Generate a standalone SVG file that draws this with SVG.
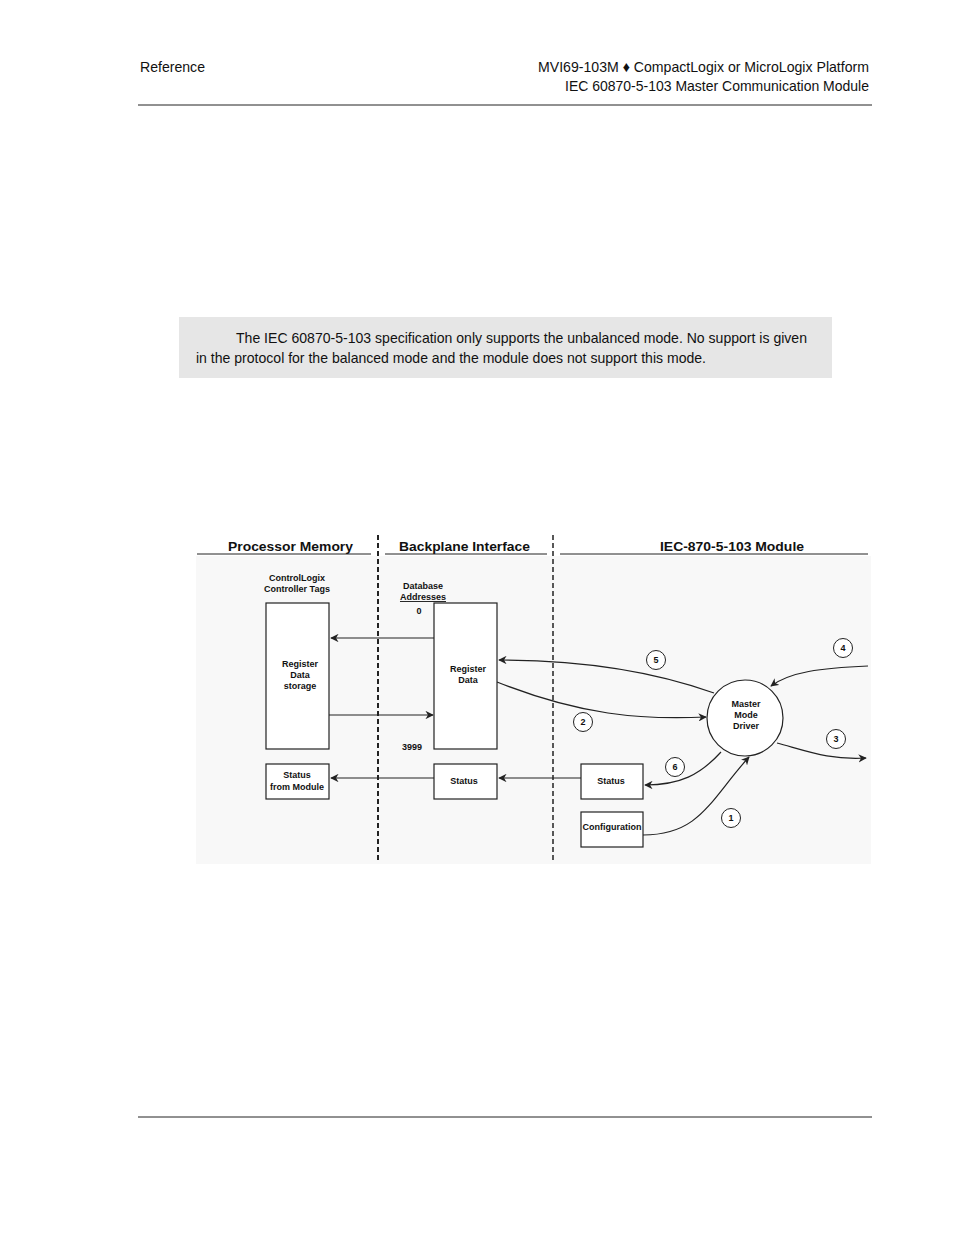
<svg xmlns="http://www.w3.org/2000/svg" width="954" height="1235" viewBox="0 0 954 1235">
<style>
.h{font-family:"Liberation Sans",Arial,sans-serif;font-size:15px;fill:#111}
.t{font-family:"Liberation Sans",Arial,sans-serif;font-size:9px;font-weight:bold;fill:#111;text-anchor:middle}
.hd{font-family:"Liberation Sans",Arial,sans-serif;font-size:13px;font-weight:bold;fill:#111}
.b{fill:#fff;stroke:#222;stroke-width:1.2}
.l{fill:none;stroke:#222;stroke-width:1.2}
.c{fill:#fff;stroke:#222;stroke-width:1}
.d{stroke:#222;stroke-width:2;stroke-dasharray:5,3}
</style>
<defs><marker id="a" viewBox="0 0 10 10" refX="9" refY="5" markerWidth="7" markerHeight="7" orient="auto"><path d="M0,0 L10,5 L0,10 L3,5 z" fill="#222"/></marker></defs>
<rect width="954" height="1235" fill="#fff"/>
<text class="h" x="140" y="72" textLength="65" lengthAdjust="spacingAndGlyphs">Reference</text>
<text class="h" x="538" y="72" textLength="331" lengthAdjust="spacingAndGlyphs">MVI69-103M ♦ CompactLogix or MicroLogix Platform</text>
<text class="h" x="565" y="91" textLength="304" lengthAdjust="spacingAndGlyphs">IEC 60870-5-103 Master Communication Module</text>
<line x1="138" y1="105" x2="872" y2="105" stroke="#222"/>
<rect x="179" y="317" width="653" height="61" fill="#e6e6e6"/>
<text class="h" x="236" y="343" textLength="571" lengthAdjust="spacingAndGlyphs">The IEC 60870-5-103 specification only supports the unbalanced mode. No support is given</text>
<text class="h" x="196" y="363" textLength="510" lengthAdjust="spacingAndGlyphs">in the protocol for the balanced mode and the module does not support this mode.</text>
<line x1="138" y1="1117" x2="872" y2="1117" stroke="#222"/>
<rect x="196" y="556" width="675" height="308" fill="#f8f8f8"/>
<text class="hd" x="228" y="551" textLength="125" lengthAdjust="spacingAndGlyphs">Processor Memory</text>
<text class="hd" x="399" y="551" textLength="131" lengthAdjust="spacingAndGlyphs">Backplane Interface</text>
<text class="hd" x="660" y="551" textLength="144" lengthAdjust="spacingAndGlyphs">IEC-870-5-103 Module</text>
<line x1="197" y1="554" x2="371" y2="554" stroke="#222"/>
<line x1="385" y1="554" x2="547" y2="554" stroke="#222"/>
<line x1="560" y1="554" x2="868" y2="554" stroke="#222"/>
<line class="d" x1="378" y1="535" x2="378" y2="862"/>
<line class="d" x1="553" y1="535" x2="553" y2="862" style="stroke-width:1.5"/>
<text class="t" x="297" y="581">ControlLogix</text>
<text class="t" x="297" y="592">Controller Tags</text>
<text class="t" x="423" y="589">Database</text>
<text class="t" x="423" y="600" text-decoration="underline">Addresses</text>
<text class="t" x="419" y="614">0</text>
<text class="t" x="412" y="750">3999</text>
<g id="connectors">
<line class="l" x1="434" y1="638" x2="331" y2="638" marker-end="url(#a)"/>
<line class="l" x1="329" y1="715" x2="433" y2="715" marker-end="url(#a)"/>
<line class="l" x1="434" y1="778" x2="331" y2="778" marker-end="url(#a)"/>
<line class="l" x1="581" y1="778" x2="499" y2="778" marker-end="url(#a)"/>
<path class="l" d="M714,693 C650,670 580,660 499,660" marker-end="url(#a)"/>
<path class="l" d="M497,682 C580,715 640,720 706,717" marker-end="url(#a)"/>
<path class="l" d="M868,666 C820,668 790,672 771,686" marker-end="url(#a)"/>
<path class="l" d="M777,743 C810,752 830,760 866,758" marker-end="url(#a)"/>
<path class="l" d="M721,752 C700,775 680,785 645,785" marker-end="url(#a)"/>
<path class="l" d="M643,835 C700,835 710,800 749,757" marker-end="url(#a)"/>
</g>
<g id="n-storage"><rect class="b" x="266" y="603" width="63" height="146"/><text class="t" x="300" y="667">Register</text><text class="t" x="300" y="678">Data</text><text class="t" x="300" y="689">storage</text></g>
<g id="n-regdata"><rect class="b" x="434" y="603" width="63" height="146"/><text class="t" x="468" y="672">Register</text><text class="t" x="468" y="683">Data</text></g>
<g id="n-statusmod"><rect class="b" x="266" y="764" width="63" height="35"/><text class="t" x="297" y="778">Status</text><text class="t" x="297" y="790">from Module</text></g>
<g id="n-status2"><rect class="b" x="434" y="764" width="63" height="35"/><text class="t" x="464" y="784">Status</text></g>
<g id="n-status3"><rect class="b" x="581" y="764" width="62" height="35"/><text class="t" x="611" y="784">Status</text></g>
<g id="n-config"><rect class="b" x="581" y="812" width="62" height="35"/><text class="t" x="612" y="830">Configuration</text></g>
<g id="n-driver"><circle class="b" cx="745" cy="718" r="38"/><text class="t" x="746" y="707">Master</text><text class="t" x="746" y="718">Mode</text><text class="t" x="746" y="729">Driver</text></g>
<g id="n-num"><circle class="c" cx="656" cy="660" r="9.5"/><text class="t" x="656" y="663">5</text>
<circle class="c" cx="843" cy="648" r="9.5"/><text class="t" x="843" y="651">4</text>
<circle class="c" cx="583" cy="722" r="9.5"/><text class="t" x="583" y="725">2</text>
<circle class="c" cx="836" cy="739" r="9.5"/><text class="t" x="836" y="742">3</text>
<circle class="c" cx="675" cy="767" r="9.5"/><text class="t" x="675" y="770">6</text>
<circle class="c" cx="731" cy="818" r="9.5"/><text class="t" x="731" y="821">1</text></g>
</svg>
